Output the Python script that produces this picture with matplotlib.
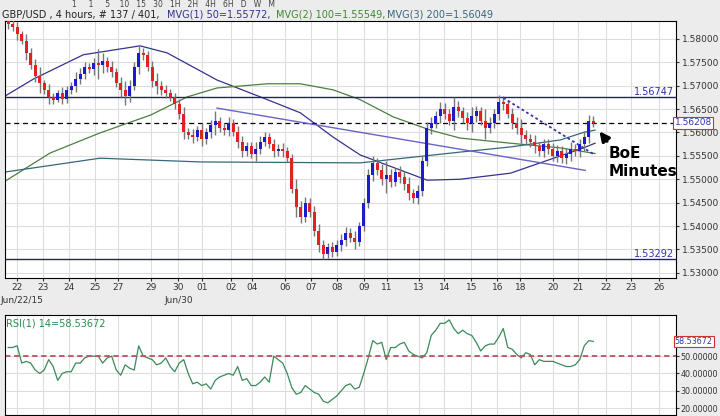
import matplotlib
matplotlib.use('Agg')
import matplotlib.pyplot as plt
import numpy as np

# 4h closes, one per candle
closes = [1.5832, 1.5825, 1.5810, 1.5795, 1.5770, 1.5745, 1.5720, 1.5705, 1.5690, 1.5675,
          1.5670, 1.5685, 1.5672, 1.5690, 1.5700, 1.5715, 1.5725, 1.5740, 1.5735, 1.5748,
          1.5745, 1.5752, 1.5740, 1.5730, 1.5705, 1.5690, 1.5678, 1.5700, 1.5740, 1.5770,
          1.5765, 1.5740, 1.5710, 1.5700, 1.5690, 1.5685, 1.5675, 1.5660, 1.5640, 1.5600,
          1.5595, 1.5590, 1.5605, 1.5585, 1.5600, 1.5615, 1.5625, 1.5610, 1.5605, 1.5620,
          1.5600, 1.5580, 1.5560, 1.5570, 1.5555, 1.5565, 1.5580, 1.5590, 1.5575, 1.5560,
          1.5565, 1.5560, 1.5545, 1.5480, 1.5440, 1.5420, 1.5450, 1.5430, 1.5390, 1.5360,
          1.5340, 1.5355, 1.5345, 1.5360, 1.5370, 1.5385, 1.5375, 1.5365, 1.5400, 1.5450,
          1.5510, 1.5535, 1.5520, 1.5500, 1.5510, 1.5495, 1.5515, 1.5505, 1.5490, 1.5470,
          1.5460, 1.5475, 1.5540, 1.5610, 1.5620, 1.5635, 1.5650, 1.5640, 1.5625, 1.5655,
          1.5645, 1.5630, 1.5620, 1.5635, 1.5645, 1.5625, 1.5610, 1.5620, 1.5640, 1.5665,
          1.5660, 1.5640, 1.5620, 1.5610, 1.5595, 1.5585, 1.5580, 1.5570, 1.5560, 1.5575,
          1.5565, 1.5550, 1.5560, 1.5545, 1.5555, 1.5565, 1.5560, 1.5575, 1.5590, 1.5625,
          1.5621]
first_open = 1.5840
# wick length beyond body, pips
wicks = [10, 8, 12, 6, 15, 10, 12, 20, 8, 14,
         10, 6, 12, 10, 8, 14, 12, 10, 9, 12,
         30, 18, 10, 12, 8, 14, 20, 12, 10, 15,
         10, 8, 12, 18, 10, 12, 8, 10, 12, 14,
         10, 12, 8, 15, 10, 12, 20, 8, 10, 12,
         8, 14, 12, 10, 9, 15, 12, 10, 8, 12,
         10, 12, 8, 10, 20, 14, 12, 10, 12, 15,
         10, 8, 12, 10, 14, 12, 10, 15, 8, 10,
         12, 14, 10, 12, 30, 12, 10, 14, 12, 15,
         10, 12, 10, 12, 14, 10, 15, 12, 10, 20,
         12, 10, 14, 20, 12, 10, 25, 12, 10, 14,
         12, 10, 12, 14, 18, 10, 12, 14, 10, 12,
         10, 12, 14, 10, 12, 15, 10, 12, 14, 12,
         10]
rsi = [55, 55, 56, 46, 47, 46, 42, 40, 42, 48, 44, 36, 40, 41, 41, 46, 46, 49, 50, 50,
       50, 46, 49, 50, 42, 39, 45, 43, 42, 56, 50, 49, 48, 45, 46, 49, 44, 41, 46, 48,
       40, 34, 35, 33, 34, 31, 36, 38, 39, 40, 39, 44, 36, 37, 33, 33, 35, 38, 35, 50,
       48, 46, 40, 32, 28, 29, 33, 31, 29, 28, 24, 23, 25, 27, 30, 33, 34, 31, 32, 40,
       49, 59, 57, 58, 48, 55, 55, 57, 58, 53, 51, 50, 49, 52, 62, 65, 69, 69, 71, 66,
       63, 65, 63, 62, 58, 53, 56, 57, 57, 61, 66, 55, 54, 51, 49, 52, 51, 45, 48, 47,
       47, 47, 46, 45, 44, 44, 45, 48, 56, 59, 58.5]

# moving averages read at anchor candles
ma50_idx = [-1, 5.6, 16.7, 29.3, 35.3, 46.4, 57.6, 64.9, 72.2, 78.2, 93.1, 100.4, 111.6, 118.2, 127.8, 130.4]
ma50_val = [1.5676, 1.5714, 1.5766, 1.5785, 1.5770, 1.5712, 1.5670, 1.5642, 1.5590, 1.5552,
            1.5498, 1.5500, 1.5513, 1.5535, 1.5567, 1.5577]
ma100_idx = [-1, 9.3, 20.4, 31.6, 39.8, 46.4, 57.6, 64.9, 72.2, 78.2, 85.6, 93.8, 100.4, 111.6, 122.7, 130.4]
ma100_val = [1.5494, 1.5556, 1.5599, 1.5637, 1.5676, 1.5695, 1.5704, 1.5704, 1.5691, 1.5670,
             1.5633, 1.5605, 1.5588, 1.5577, 1.5567, 1.5555]
ma200_idx = [-1, 20.4, 42.7, 78.2, 100.4, 111.6, 122.7, 127.8, 130.4]
ma200_val = [1.5515, 1.5545, 1.5537, 1.5535, 1.5558, 1.5569, 1.5584, 1.5600, 1.5605]

resistance = 1.56747
support = 1.53292
last_price = 1.56208
trend_idx = [46.4, 128.2]
trend_val = [1.5652, 1.5519]
dot_idx = [110, 130]
dot_val = [1.5674, 1.5554]

tick_pos = [2, 7.8, 13.6, 19.3, 24.4, 31.8, 37.8, 43.1, 49.6, 54.2, 61.6, 67.3, 73.1, 79.1,
            84.2, 91.3, 96.9, 102.9, 108.7, 113.8, 121.1, 126.7, 132.9, 138.4, 144.7]
tick_lab = ['22', '23', '24', '25', '27', '29', '30', '01', '02', '04', '06', '07', '08', '09',
            '11', '13', '14', '15', '16', '18', '20', '21', '22', '23', '26']

fig = plt.figure(figsize=(7.2, 4.16), dpi=100, facecolor='#ececec')
ax = fig.add_axes([0.007, 0.332, 0.932, 0.618])
ax2 = fig.add_axes([0.007, 0.0024, 0.932, 0.24])

opens = [first_open] + closes[:-1]
for i, (o, c, w) in enumerate(zip(opens, closes, wicks)):
    hi = max(o, c) + w / 10000
    lo = min(o, c) - w / 10000
    col = '#1c1ccc' if c >= o else '#e02222'
    ax.vlines(i, lo, hi, color='#777777', lw=1, zorder=3)
    ax.bar(i, max(abs(c - o), 0.0002), bottom=min(o, c), width=0.75, color=col, zorder=4)

ax.plot(ma50_idx, ma50_val, color='#33338f', lw=0.9, zorder=2)
ax.plot(ma100_idx, ma100_val, color='#4d7f3f', lw=0.9, zorder=2)
ax.plot(ma200_idx, ma200_val, color='#35687a', lw=0.9, zorder=2)
ax.axhline(resistance, color='#222266', lw=1, zorder=2)
ax.axhline(support, color='#222266', lw=1, zorder=2)
ax.axhline(last_price, color='black', lw=0.9, ls=(0, (4, 3)), zorder=2)
ax.plot(trend_idx, trend_val, color='#6a63c8', lw=1, zorder=2)
ax.plot(dot_idx, dot_val, color='#3333aa', lw=1.3, ls=(0, (1.5, 1.5)), zorder=5)

ax.text(148, resistance, '1.56747', color='#3333aa', fontsize=7, ha='right', va='bottom')
ax.text(148, support, '1.53292', color='#3333aa', fontsize=7, ha='right', va='bottom')
ax.annotate('BoE\nMinutes', xy=(131, 1.5607), xytext=(133.5, 1.5536), fontsize=11,
            fontweight='bold', ha='left', va='center', zorder=6,
            arrowprops=dict(arrowstyle='-|>', color='black', lw=2.2, mutation_scale=14,
                            shrinkA=2, relpos=(0.1, 0.8)))

ax.set_xlim(-0.7, 148.4)
ax.set_ylim(1.52893, 1.58385)
ax.set_yticks(np.arange(1.530, 1.5801, 0.005))
ax.yaxis.tick_right()
ax.yaxis.set_major_formatter(plt.FormatStrFormatter('%.5f'))
ax.set_xticks(tick_pos)
ax.set_xticklabels(tick_lab)
ax.tick_params(labelsize=6.5, length=2.5, pad=1.5, colors='#333333')
ax.grid(True, color='#dddddd', lw=0.8)
ax.set_axisbelow(True)
ax.text(148.1, last_price, '1.56208', fontsize=6.5, color='#3333aa', ha='left', va='center',
        clip_on=False, bbox=dict(boxstyle='square,pad=0.15', fc='white', ec='#cc3333', lw=0.8))

ax2.plot(range(len(rsi)), rsi, color='#3a8a5a', lw=0.9)
ax2.axhline(50, color='#c05060', lw=1.3, ls=(0, (3, 2)))
ax2.set_xlim(-0.7, 148.4)
ax2.set_ylim(16, 73.7)
ax2.set_yticks([20, 30, 40, 50])
ax2.yaxis.tick_right()
ax2.yaxis.set_major_formatter(plt.FormatStrFormatter('%.5f'))
ax2.set_xticks(tick_pos)
ax2.set_xticklabels([])
ax2.tick_params(labelsize=5.8, length=2, pad=1, colors='#333333')
ax2.tick_params(axis='x', length=0)
ax2.grid(True, color='#dddddd', lw=0.8)
ax2.text(0.002, 0.97, 'RSI(1) 14=58.53672', transform=ax2.transAxes, fontsize=7,
         color='#2a8a4a', va='top')
ax2.text(148.1, 58.54, '58.53672', fontsize=5.8, color='#3333aa', ha='left', va='center',
         clip_on=False, bbox=dict(boxstyle='square,pad=0.15', fc='white', ec='#cc3333', lw=0.8))

# header texts
fig.text(0.003, 0.953, 'GBP/USD , 4 hours, # 137 / 401, ', fontsize=7, color='#222222', va='bottom')
fig.text(0.232, 0.953, 'MVG(1) 50=1.55772, ', fontsize=7, color='#33338f', va='bottom')
fig.text(0.383, 0.953, 'MVG(2) 100=1.55549, ', fontsize=7, color='#3d8a2f', va='bottom')
fig.text(0.538, 0.953, 'MVG(3) 200=1.56049', fontsize=7, color='#35687a', va='bottom')
fig.text(0.1, 1.0, '1     1     5    10   15   30   1H   2H   4H   6H   D   W   M', fontsize=5.5,
         color='#444444', va='top')
fig.text(0.0, 0.278, 'Jun/22/15', fontsize=6.5, color='#333333', va='center')
fig.text(0.228, 0.278, 'Jun/30', fontsize=6.5, color='#333333', va='center')

fig.savefig('out.png', dpi=100, facecolor=fig.get_facecolor())
